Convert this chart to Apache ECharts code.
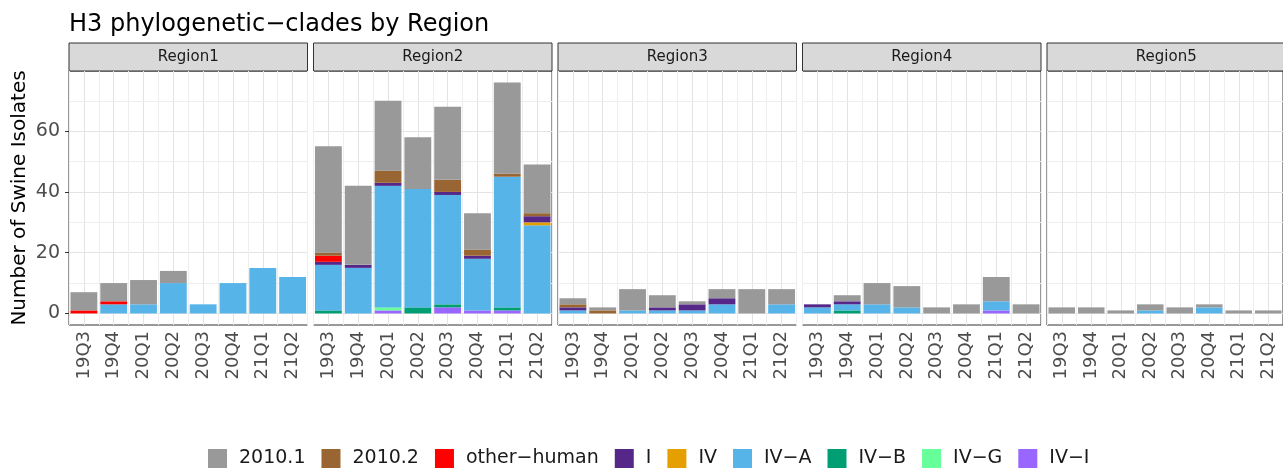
<!DOCTYPE html>
<html>
<head>
<meta charset="utf-8">
<title>H3 phylogenetic-clades by Region</title>
<script src="https://cdn.jsdelivr.net/npm/echarts@6/dist/echarts.min.js"></script>
<style>
  html, body { margin: 0; padding: 0; background: #fff; }
  #chart { width: 1283px; height: 475px; }
</style>
</head>
<body>
<div id="chart"></div>
<script>
// facet x axis and panels
var quarters = ['19Q3', '19Q4', '20Q1', '20Q2', '20Q3', '20Q4', '21Q1', '21Q2'];
var regions = ['Region1', 'Region2', 'Region3', 'Region4', 'Region5'];
// legend order; ggplot stacks the first level on top
var clades = ['2010.1', '2010.2', 'other\u2212human', 'I', 'IV', 'IV\u2212A', 'IV\u2212B', 'IV\u2212G', 'IV\u2212I'];
var cladeColors = ['#999999', '#996633', '#FF0000', '#542788', '#E69F00', '#56B4E9', '#009E73', '#66FF99', '#9966FF'];
var yTicks = [0, 20, 40, 60];
var yMinor = [10, 30, 50, 70];

// isolates per clade: one row per region, one value per quarter
var c2010_1 = [
  [6, 6, 8, 4, 0, 0, 0, 0],
  [35, 26, 23, 17, 24, 12, 30, 16],
  [2, 1, 7, 4, 1, 3, 8, 5],
  [0, 2, 7, 7, 2, 3, 8, 3],
  [2, 2, 1, 2, 2, 1, 1, 1]
];
var c2010_2 = [
  [0, 0, 0, 0, 0, 0, 0, 0],
  [1, 0, 4, 0, 4, 2, 1, 1],
  [1, 1, 0, 0, 0, 0, 0, 0],
  [0, 0, 0, 0, 0, 0, 0, 0],
  [0, 0, 0, 0, 0, 0, 0, 0]
];
var cOtherHuman = [
  [1, 1, 0, 0, 0, 0, 0, 0],
  [2, 0, 0, 0, 0, 0, 0, 0],
  [0, 0, 0, 0, 0, 0, 0, 0],
  [0, 0, 0, 0, 0, 0, 0, 0],
  [0, 0, 0, 0, 0, 0, 0, 0]
];
var cI = [
  [0, 0, 0, 0, 0, 0, 0, 0],
  [1, 1, 1, 0, 1, 1, 0, 2],
  [1, 0, 0, 1, 2, 2, 0, 0],
  [1, 1, 0, 0, 0, 0, 0, 0],
  [0, 0, 0, 0, 0, 0, 0, 0]
];
var cIV = [
  [0, 0, 0, 0, 0, 0, 0, 0],
  [0, 0, 0, 0, 0, 0, 0, 1],
  [0, 0, 0, 0, 0, 0, 0, 0],
  [0, 0, 0, 0, 0, 0, 0, 0],
  [0, 0, 0, 0, 0, 0, 0, 0]
];
var cIVA = [
  [0, 3, 3, 10, 3, 10, 15, 12],
  [15, 15, 40, 39, 36, 17, 43, 29],
  [1, 0, 1, 1, 1, 3, 0, 3],
  [2, 2, 3, 2, 0, 0, 3, 0],
  [0, 0, 0, 1, 0, 2, 0, 0]
];
var cIVB = [
  [0, 0, 0, 0, 0, 0, 0, 0],
  [1, 0, 0, 2, 1, 0, 1, 0],
  [0, 0, 0, 0, 0, 0, 0, 0],
  [0, 1, 0, 0, 0, 0, 0, 0],
  [0, 0, 0, 0, 0, 0, 0, 0]
];
var cIVG = [
  [0, 0, 0, 0, 0, 0, 0, 0],
  [0, 0, 1, 0, 0, 0, 0, 0],
  [0, 0, 0, 0, 0, 0, 0, 0],
  [0, 0, 0, 0, 0, 0, 0, 0],
  [0, 0, 0, 0, 0, 0, 0, 0]
];
var cIVI = [
  [0, 0, 0, 0, 0, 0, 0, 0],
  [0, 0, 1, 0, 2, 1, 1, 0],
  [0, 0, 0, 0, 0, 0, 0, 0],
  [0, 0, 0, 0, 0, 0, 1, 0],
  [0, 0, 0, 0, 0, 0, 0, 0]
];
var counts = [c2010_1, c2010_2, cOtherHuman, cI, cIV, cIVA, cIVB, cIVG, cIVI];

// layout (px)
var font = 'DejaVu Sans';
var panelLeft = 69, panelWidth = 238.5, panelGap = 6;
var stripTop = 43, stripHeight = 28;
var panelTop = 71, panelHeight = 254;
var gridMajor = '#E3E3E3', gridMinor = '#EEEEEE';

// shared y range like ggplot: 5% expansion on each side of the tallest stack
var maxTotal = 0;
regions.forEach(function (r, ri) {
  quarters.forEach(function (q, qi) {
    var s = 0;
    counts.forEach(function (c) { s += c[ri][qi]; });
    if (s > maxTotal) maxTotal = s;
  });
});
var yMin = -0.05 * maxTotal, yMax = maxTotal * 1.05;

var grids = [], xAxes = [], yAxes = [], series = [], graphics = [];

regions.forEach(function (region, ri) {
  var left = panelLeft + ri * (panelWidth + panelGap);
  grids.push({
    left: left, top: panelTop, width: panelWidth, height: panelHeight,
    show: true, backgroundColor: '#ffffff', borderColor: '#333333', borderWidth: 1
  });
  xAxes.push({
    type: 'category', gridIndex: ri, data: quarters,
    axisLine: { show: false },
    axisTick: { show: true, alignWithLabel: true, length: 4, lineStyle: { color: '#333333' } },
    axisLabel: { rotate: 90, margin: 6, color: '#4D4D4D', fontSize: 18, fontFamily: font, interval: 0 },
    splitLine: { show: true, interval: 0, lineStyle: { color: gridMinor, width: 1 } }
  });
  yAxes.push({
    type: 'value', gridIndex: ri, min: yMin, max: yMax,
    axisLine: { show: false },
    axisTick: { show: ri === 0, length: 4, customValues: yTicks, lineStyle: { color: '#333333' } },
    axisLabel: { show: ri === 0, customValues: yTicks, margin: 9, color: '#4D4D4D', fontSize: 19, fontFamily: font },
    splitLine: { show: true, lineStyle: { color: gridMajor, width: 1 } }
  });

  // stack from the bottom: last clade first
  for (var ci = clades.length - 1; ci >= 0; ci--) {
    var s = {
      name: clades[ci], type: 'bar', stack: 'r' + ri,
      xAxisIndex: ri, yAxisIndex: ri,
      barCategoryGap: '10%',
      itemStyle: { color: cladeColors[ci] },
      data: counts[ci][ri]
    };
    if (ci === 0) {
      s.markLine = {
        silent: true, symbol: 'none', z: 1, animation: false,
        label: { show: false },
        lineStyle: { color: gridMajor, width: 1, type: 'solid' },
        data: quarters.map(function (q) { return { xAxis: q }; })
          .concat(yMinor.map(function (v) { return { yAxis: v, lineStyle: { color: gridMinor, width: 1 } }; }))
      };
    }
    series.push(s);
  }

  // facet strip
  graphics.push({
    type: 'rect', silent: true,
    shape: { x: left, y: stripTop, width: panelWidth, height: stripHeight },
    style: { fill: '#D9D9D9', stroke: '#333333', lineWidth: 1 }
  });
  graphics.push({
    type: 'text', silent: true,
    x: left + panelWidth / 2, y: stripTop + stripHeight / 2,
    style: { text: region, fill: '#1A1A1A', font: '15px "' + font + '"', align: 'center', verticalAlign: 'middle' }
  });
});

var chart = echarts.init(document.getElementById('chart'));
chart.setOption({
  animation: false,
  backgroundColor: '#ffffff',
  title: {
    text: 'H3 phylogenetic\u2212clades by Region',
    left: 64, top: 8,
    textStyle: { fontFamily: font, fontSize: 24, fontWeight: 'normal', color: '#000000' }
  },
  legend: {
    data: clades,
    left: 208, top: 449, padding: 0,
    itemWidth: 19, itemHeight: 19, itemGap: 16,
    icon: 'rect',
    textStyle: { fontFamily: font, fontSize: 19, color: '#1A1A1A', padding: [0, 0, 0, 7] }
  },
  grid: grids,
  xAxis: xAxes,
  yAxis: yAxes,
  series: series,
  graphic: graphics.concat([{
    type: 'text', silent: true,
    x: 20, y: panelTop + panelHeight / 2, rotation: Math.PI / 2,
    style: { text: 'Number of Swine Isolates', fill: '#000000', font: '20px "' + font + '"', align: 'center', verticalAlign: 'middle' }
  }])
});
</script>
</body>
</html>
